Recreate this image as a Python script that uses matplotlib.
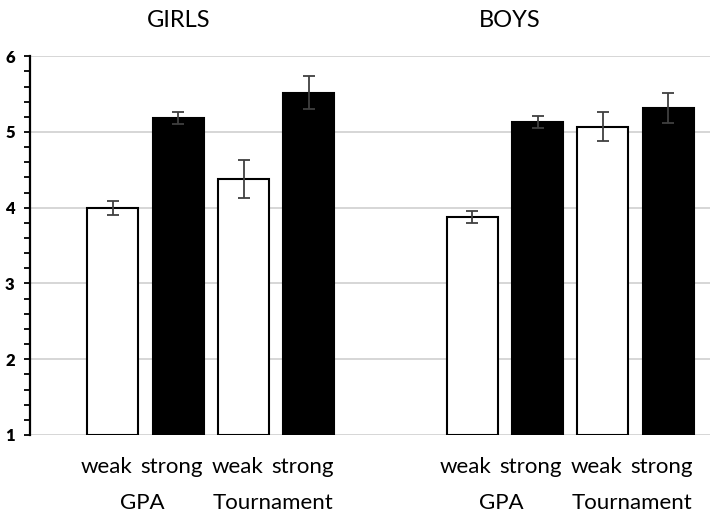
import numpy as np
import matplotlib
matplotlib.use('Agg')
import matplotlib.pyplot as plt
from matplotlib.ticker import MultipleLocator

plt.rcParams['font.family'] = ['Lato', 'DejaVu Sans']

# mean ratings and standard errors, order: GPA weak/strong, Tournament weak/strong
conditions = ['weak', 'strong', 'weak', 'strong']
girls_mean = [4.00, 5.19, 4.38, 5.52]
girls_err = [0.09, 0.08, 0.25, 0.22]
boys_mean = [3.88, 5.13, 5.07, 5.32]
boys_err = [0.075, 0.075, 0.19, 0.20]
fills = ['white', 'black', 'white', 'black']

fig = plt.figure(figsize=(7.1, 5.16), dpi=100)
ax = fig.add_axes([30 / 710, 0.157, 1 - 30 / 710, 0.734])

x_girls = np.arange(4)
x_boys = np.arange(4) + 5.5

for xs, means, errs in [(x_girls, girls_mean, girls_err), (x_boys, boys_mean, boys_err)]:
    ax.bar(xs, np.array(means) - 1, bottom=1, width=0.78, color=fills,
           edgecolor='black', linewidth=1.5, zorder=3)
    ax.errorbar(xs, means, yerr=errs, fmt='none', ecolor='#404040',
                elinewidth=1.3, capsize=4, capthick=1.3, zorder=4)

ax.set_ylim(1, 6)
ax.set_xlim(-1.27, 9.14)
ax.yaxis.set_major_locator(MultipleLocator(1))
ax.yaxis.set_minor_locator(MultipleLocator(0.2))
ax.yaxis.grid(True, color='#d0d0d0', linewidth=1.2, zorder=0)
ax.set_axisbelow(True)
for s in ['top', 'right', 'bottom']:
    ax.spines[s].set_visible(False)
ax.spines['left'].set_linewidth(1.6)
ax.tick_params(axis='y', which='both', direction='out', length=4, width=1.3,
               labelsize=12, pad=7)
for lab in ax.get_yticklabels():
    lab.set_fontweight('heavy')

ax.set_xticks(np.concatenate([x_girls, x_boys]) - 0.1)
ax.set_xticklabels(conditions * 2, fontsize=16)
ax.tick_params(axis='x', length=0, pad=16)

trans = ax.get_xaxis_transform()
for base in [0, 5.5]:
    ax.text(base + 0.45, -0.18, 'GPA', transform=trans, ha='center',
            va='center', fontsize=16)
    ax.text(base + 2.45, -0.18, 'Tournament', transform=trans, ha='center',
            va='center', fontsize=16)

ax.text(1.0, 1.095, 'GIRLS', transform=trans, ha='center', va='center', fontsize=17)
ax.text(6.08, 1.095, 'BOYS', transform=trans, ha='center', va='center', fontsize=17)

fig.savefig('out.png', dpi=100)
